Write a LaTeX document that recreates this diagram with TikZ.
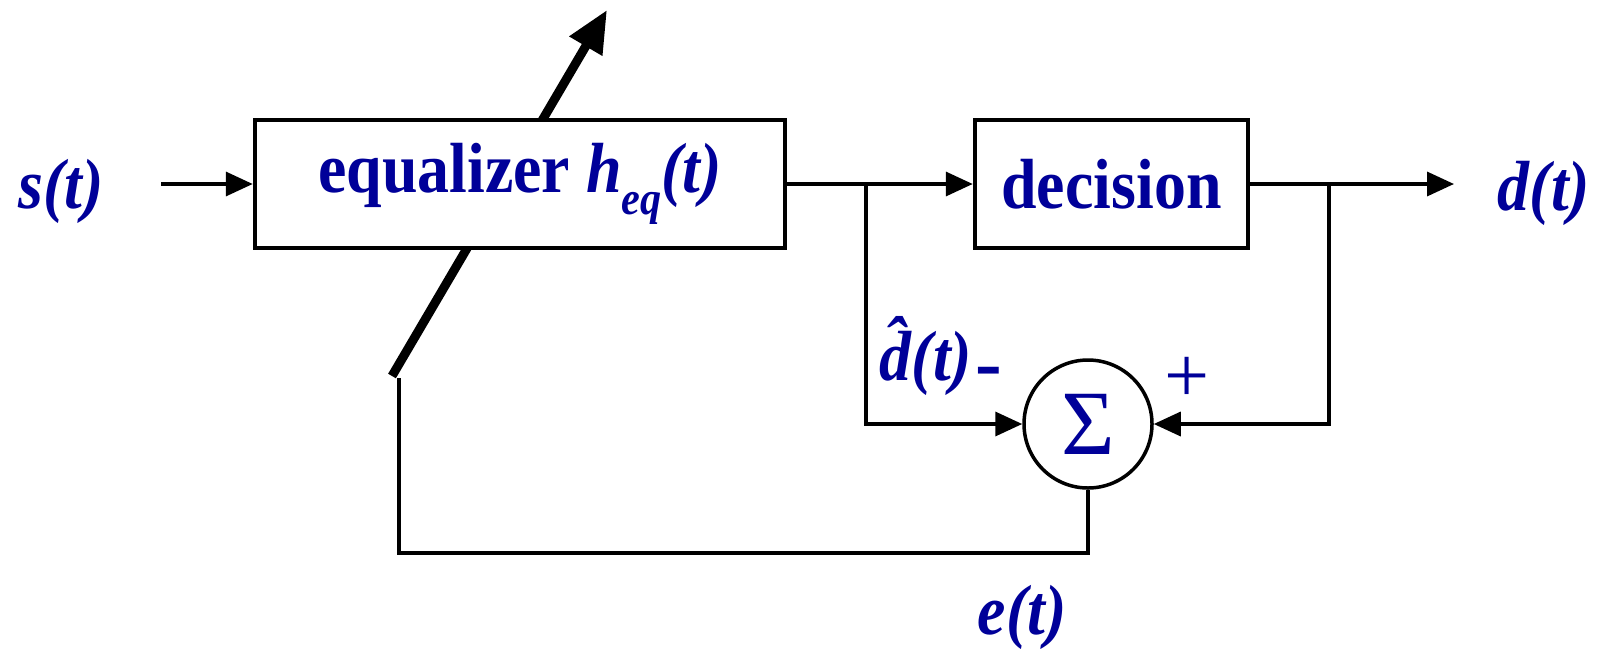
\documentclass[tikz,border=0pt]{standalone}
\usepackage{fontspec}
\setmainfont{Liberation Serif}
\newfontfamily\condserif[FakeStretch=0.9]{Liberation Serif}
\usetikzlibrary{arrows.meta}
\definecolor{txtblue}{HTML}{000099}
\begin{document}
\begin{tikzpicture}[x=1pt,y=-1pt,
  blk/.style={draw, line width=4.5pt, fill=white, inner sep=0pt, text=txtblue,
    font=\condserif\fontsize{71}{71}\selectfont\bfseries},
  wire/.style={line width=3.5pt},
  arr/.style={wire, -{Triangle[length=27pt,width=24pt]}},
  lbl/.style={text=txtblue, font=\condserif\fontsize{71}{71}\selectfont\bfseries\itshape, inner sep=0pt},
  sgn/.style={text=txtblue, font=\fontsize{80}{80}\selectfont, inner sep=0pt},
]
\useasboundingbox (0,0) rectangle (1605,648);
% adaptation arrow (behind the equalizer box)
\coordinate (adjlow) at (392,376);
\coordinate (adjtip) at (607,10);
\draw[line width=9pt, -{Triangle[length=42pt,width=36pt]}] (adjlow) -- (adjtip);
% blocks
\node[blk, minimum width=530pt, minimum height=128pt] (eq) at (520,184)
  {equalizer \itshape h\raisebox{-0.3em}{\fontsize{47}{47}\selectfont eq}(t)};
\node[blk, minimum width=273pt, minimum height=128pt] (dec) at (1111.5,184) {decision};
\node[draw, circle, line width=3.5pt, minimum size=128pt, inner sep=0pt, fill=white,
  text=txtblue, font=\fontsize{92}{92}\selectfont] (sum) at (1088,424) {Σ};
% coordinates
\coordinate (instart) at (161,184);
\coordinate (outend) at (1454,184);
\coordinate (br1) at (866,184);
\coordinate (br2) at (1329,184);
\coordinate (botR) at (1088,553);
\coordinate (botL) at (399,553);
\coordinate (adjfoot) at (399,378);
% connectors
\draw[arr] (instart) -- (eq);
\draw[arr] (eq) -- (dec);
\draw[arr] (dec) -- (outend);
\draw[arr] (br1) |- (sum);
\draw[arr] (br2) |- (sum);
\draw[wire] (sum) -- (botR) -- (botL) -- (adjfoot);
% labels
\node[lbl] (s) at (61,191) {s(t)};
\node[lbl] (d) at (1544,193) {d(t)};
\node[lbl] (dh) at (926,356) {\^d(t)};
\node[lbl] (e) at (1022,617) {e(t)};
\node[text=txtblue, font=\fontsize{80}{80}\selectfont\bfseries, inner sep=0pt] (minus) at (989,378) {-};
\node[sgn] (plus) at (1187,380) {+};
\end{tikzpicture}
\end{document}
